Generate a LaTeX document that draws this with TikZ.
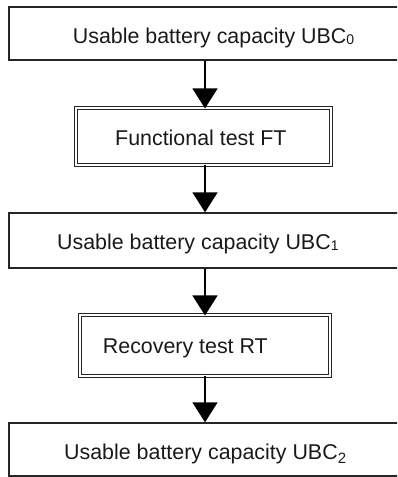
\documentclass[tikz,border=0pt]{standalone}
\usepackage{fontspec}
\setmainfont{Liberation Sans}
\usetikzlibrary{arrows.meta}
\newcommand\lowsub[3]{\raisebox{#1}{\fontsize{#2}{#2}\selectfont #3}}
\begin{document}
\begin{tikzpicture}[x=1pt,y=-1pt,
  box/.style={draw=black!85, line width=1.3pt, rectangle, inner sep=0pt},
  dbox/.style={draw=black!85, line width=1.1pt, double=white, double distance=2pt, rectangle, inner sep=0pt},
  txt/.style={anchor=base west, inner sep=0pt, font=\fontsize{21.4}{24}\selectfont, text=black!90},
  arr/.style={draw=black, line width=1.3pt, -{Triangle[width=25pt,length=20pt]}}]
\useasboundingbox (0,0) rectangle (397,477);
\clip (0,0) rectangle (397,477);
\node[box, minimum width=393pt, minimum height=53pt] (b0) at (205.5,33.5) {};
\node[dbox, minimum width=255pt, minimum height=57pt] (ft) at (203.5,136.5) {};
\node[box, minimum width=393pt, minimum height=55pt] (b1) at (205.5,240.5) {};
\node[dbox, minimum width=250pt, minimum height=61pt] (rt) at (205,345.5) {};
\node[box, minimum width=393pt, minimum height=53pt] (b2) at (205.5,449.5) {};
\coordinate (ax) at (205,0);
\node[txt] (t0) at (72.7,43.3) {Usable battery capacity UBC\lowsub{-1pt}{14}{0}};
\node[txt] (t1) at (115,145.7) {Functional test FT};
\node[txt] (t2) at (57,249.3) {Usable battery capacity UBC\lowsub{-1pt}{14}{1}};
\node[txt] (t3) at (102.7,353.3) {Recovery test RT};
\node[txt] (t4) at (64,459) {Usable battery capacity UBC\lowsub{-4pt}{15}{2}};
\draw[arr] (b0.south -| ax) -- ([yshift=-1pt]ft.north -| ax);
\draw[arr] ([yshift=1pt]ft.south -| ax) -- (b1.north -| ax);
\draw[arr] (b1.south -| ax) -- ([yshift=-1pt]rt.north -| ax);
\draw[arr] ([yshift=1pt]rt.south -| ax) -- (b2.north -| ax);
\end{tikzpicture}
\end{document}
